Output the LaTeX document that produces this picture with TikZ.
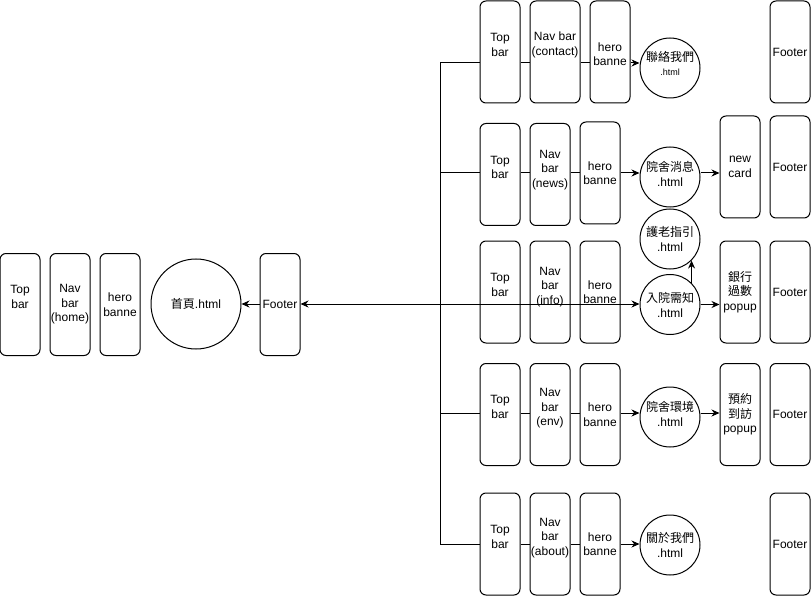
\documentclass[tikz,border=0pt]{standalone}
\usepackage{fontspec}
\setmainfont{Liberation Sans}
\newfontfamily\cjk{Noto Sans CJK TC}
\usetikzlibrary{arrows.meta}
\begin{document}
\begin{tikzpicture}[x=1pt,y=-1pt,line width=1pt,
  box/.style={draw,rounded corners=6pt,minimum width=40pt,minimum height=102pt,inner sep=0pt,align=center,font=\fontsize{12}{14.5}\selectfont},
  page/.style={draw,circle,minimum size=60pt,inner sep=0pt,align=center,font=\fontsize{12}{15}\selectfont},
  tx/.style 2 args={label={[align=center,yshift=#1,font=\fontsize{12}{14.5}\selectfont]center:#2}},
  ctx/.style 2 args={label={[align=center,yshift=#1,font=\fontsize{12}{15}\selectfont]center:#2}},
  arr/.style={-{Stealth[length=8pt,width=7pt]}}]
\useasboundingbox (0,0) rectangle (811,596);
% home page
\node[box,tx={7.5pt}{Top\\bar}] (ht) at (20,304.5) {};
\node[box] (hn) at (70,304.5) {Nav\\bar\\(home)};
\node[box] (hh) at (120,304.5) {hero\\banne};
\node[page,minimum size=90pt] (hc) at (196,304) {{\cjk 首頁}.html};
\node[box] (hf) at (280,304.5) {Footer};
% row 1
\node[box,tx={7pt}{Top\\bar}] (t1) at (500,52) {};
\node[box,minimum width=50pt,tx={7pt}{Nav bar\\(contact)}] (n1) at (555,52) {};
\node[box,tx={-2pt}{hero\\banne}] (h1) at (610,52) {};
\node[page,ctx={5pt}{{\cjk 聯絡我們}\\[-1pt]{\fontsize{9}{11}\selectfont .html}}] (c1) at (670,68) {};
\node[box] (f1) at (790,52) {Footer};
% row 2
\node[box,tx={7pt}{Top\\bar}] (t2) at (500,174.5) {};
\node[box,tx={4.5pt}{Nav\\bar\\(news)}] (n2) at (550,174.5) {};
\node[box] (h2) at (600,173) {hero\\banne};
\node[page,ctx={3.5pt}{{\cjk 院舍消息}\\.html}] (c2) at (670,177) {};
\node[box] (p2) at (740,167) {new\\card};
\node[box] (f2) at (790,167) {Footer};
% row 3
\node[box,tx={7pt}{Top\\bar}] (t3) at (500,292) {};
\node[box,tx={5pt}{Nav\\bar\\(info)}] (n3) at (550,292) {};
\node[box] (h3) at (600,292) {hero\\banne};
\node[page] (c3) at (670,304.5) {{\cjk 入院需知}\\.html};
\node[page] (c3b) at (670,239) {{\cjk 護老指引}\\.html};
\node[box] (p3) at (740,292) {{\cjk 銀行}\\{\cjk 過數}\\popup};
\node[box] (f3) at (790,292) {Footer};
% row 4
\node[box,tx={7.5pt}{Top\\bar}] (t4) at (500,414.5) {};
\node[box,tx={6pt}{Nav\\bar\\(env)}] (n4) at (550,414.5) {};
\node[box] (h4) at (600,414.5) {hero\\banne};
\node[page,ctx={3pt}{{\cjk 院舍環境}\\.html}] (c4) at (670,417) {};
\node[box] (p4) at (740,414.5) {{\cjk 預約}\\{\cjk 到訪}\\popup};
\node[box] (f4) at (790,414.5) {Footer};
% row 5
\node[box,tx={7pt}{Top\\bar}] (t5) at (500,544) {};
\node[box,tx={6pt}{Nav\\bar\\(about)}] (n5) at (550,544) {};
\node[box] (h5) at (600,544) {hero\\banne};
\node[page] (c5) at (670,545) {{\cjk 關於我們}\\.html};
\node[box] (f5) at (790,544) {Footer};
% spine
\coordinate (s1) at (440,63);
\coordinate (s2) at (440,173);
\coordinate (s3) at (440,304);
\coordinate (s4) at (440,413);
\coordinate (s5) at (440,544);
\draw (s1) -- (s5);
% row 1 links
\draw (s1) -- (s1 -| t1.west);
\draw (s1 -| t1.east) -- (s1 -| n1.west);
\draw (s1 -| n1.east) -- (s1 -| h1.west);
\draw[arr] (s1 -| h1.east) -- (s1 -| c1.west);
% row 2 links
\draw (s2) -- (s2 -| t2.west);
\draw (s2 -| t2.east) -- (s2 -| n2.west);
\draw (s2 -| n2.east) -- (s2 -| h2.west);
\draw[arr] (s2 -| h2.east) -- (s2 -| c2.west);
\draw[arr] (s2 -| c2.east) -- (s2 -| p2.west);
% row 3 links
\draw[arr] (s3) -- (s3 -| c3.west);
\draw[arr] (s3) -- (s3 -| hf.east);
\draw[arr] (s3 -| hf.west) -- (s3 -| hc.east);
\draw[arr] (c3.east) -- (c3.east -| p3.west);
\draw[arr] (c3.north east) -- (c3b.south east);
% row 4 links
\draw (s4) -- (s4 -| t4.west);
\draw (s4 -| t4.east) -- (s4 -| n4.west);
\draw (s4 -| n4.east) -- (s4 -| h4.west);
\draw[arr] (s4 -| h4.east) -- (s4 -| c4.west);
\draw[arr] (s4 -| c4.east) -- (s4 -| p4.west);
% row 5 links
\draw (s5) -- (s5 -| t5.west);
\draw (s5 -| t5.east) -- (s5 -| n5.west);
\draw (s5 -| n5.east) -- (s5 -| h5.west);
\draw[arr] (s5 -| h5.east) -- (s5 -| c5.west);
\end{tikzpicture}
\end{document}
